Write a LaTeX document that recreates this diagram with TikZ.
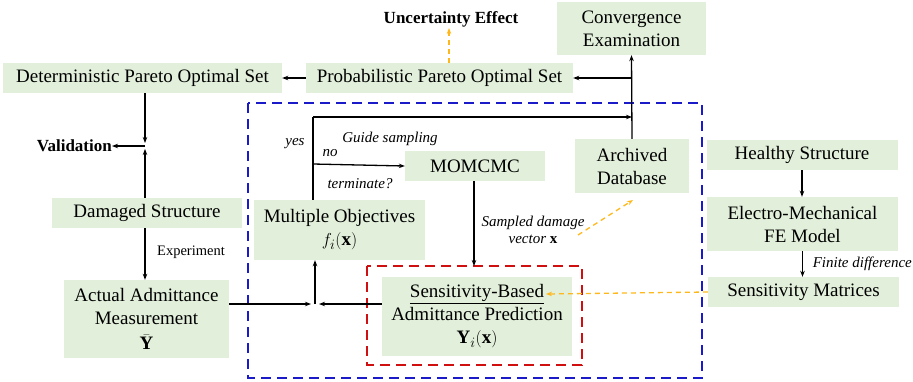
\documentclass[tikz,border=0pt]{standalone}
\usepackage{fontspec}
\setmainfont{Liberation Serif}
\usetikzlibrary{arrows.meta}
\definecolor{boxgreen}{HTML}{E2EFDA}
\definecolor{dblue}{HTML}{1A1AC8}
\definecolor{dred}{HTML}{D01010}
\definecolor{dyellow}{HTML}{FFB81C}
\tikzset{
  box/.style={fill=boxgreen, draw=none, inner sep=0pt, align=center, font=\fontsize{19}{23}\selectfont},
  arr/.style={line width=1.3pt, -{Stealth[length=6pt,width=4.5pt]}},
  yarr/.style={line width=1.3pt, dyellow, dash pattern=on 5pt off 4pt, -{Stealth[length=6pt,width=4.5pt]}},
  lbl/.style={font=\fontsize{15}{17.5}\selectfont\itshape, inner sep=0pt},
  blbl/.style={font=\fontsize{17}{19}\selectfont\bfseries, inner sep=0pt},
}
\begin{document}
\begin{tikzpicture}[x=1pt,y=-1pt]
\useasboundingbox (0,0) rectangle (913,381);
% frames
\draw[dblue, line width=1.6pt, dash pattern=on 10pt off 6pt] (248,103) rectangle (702,378);
\draw[dred, line width=1.6pt, dash pattern=on 10pt off 6pt] (367,266) rectangle (582,365);
% boxes
\node[box, minimum width=279pt, minimum height=30pt] (det) at (142.5,78) {Deterministic Pareto Optimal Set};
\node[box, minimum width=267pt, minimum height=30pt] (prob) at (439.5,78) {Probabilistic Pareto Optimal Set};
\node[box, minimum width=149pt, minimum height=53pt] (conv) at (631.5,28.5) {Convergence\\Examination};
\node[box, minimum width=140pt, minimum height=30pt] (mom) at (475,166) {MOMCMC};
\node[box, minimum width=114pt, minimum height=54pt] (arch) at (632,166) {Archived\\Database};
\node[box, minimum width=191pt, minimum height=30pt] (heal) at (802,155) {Healthy Structure};
\node[box, minimum width=190pt, minimum height=30pt] (dam) at (147,213) {Damaged Structure};
\node[box, minimum width=171pt, minimum height=60pt] (mo) at (339.5,230) {Multiple Objectives\\$f_i(\mathbf{x})$};
\node[box, minimum width=191pt, minimum height=54pt] (em) at (802.5,224) {Electro-Mechanical\\FE Model};
\node[box, minimum width=165pt, minimum height=78pt] (act) at (146.5,319) {};
\node[box, fill=none] (acttxt) at (146.5,306.5) {Actual Admittance\\Measurement};
\node[box, fill=none] (actY) at (146.5,342) {$\bar{\mathbf{Y}}$};
\node[box, minimum width=190pt, minimum height=79pt] (sens) at (477,316.5) {\underline{Sensitivity-Based}\\Admittance Prediction\\$\mathbf{Y}_i(\mathbf{x})$};
\node[box, minimum width=191pt, minimum height=30pt] (smat) at (803.5,292) {Sensitivity Matrices};
% texts
\node[blbl] (unc) at (451,19) {Uncertainty Effect};
\node[blbl, anchor=east] (val) at (112,146) {Validation};
\node[lbl] (yes) at (295,144) {yes};
\node[lbl] (no) at (330,153) {no};
\node[lbl] (guide) at (390,139) {Guide sampling};
\node[lbl] (term) at (360,184) {terminate?};
\node[lbl, align=center] (samp) at (533,230) {Sampled damage\\vector {\upshape$\mathbf{x}$}};
\node[font=\fontsize{14.5}{15}\selectfont, inner sep=0pt] (exp) at (191,252) {Experiment};
\node[lbl, anchor=east] (fd) at (912,264) {Finite difference};
% coordinates
\coordinate (jv) at (145,146);
\coordinate (jm) at (315,304);
\coordinate (ctop) at (632,117);
\coordinate (ltop) at (313,117);
\coordinate (lmid) at (313,164);
\coordinate (pa) at (632,78);
\coordinate (pu) at (449,63);
\coordinate (ut) at (449,28);
\coordinate (sa) at (578,235);
\coordinate (sb) at (633,200);
\coordinate (redtop) at (474,266);
\coordinate (stxt) at (546,294);
% connectors
\draw[arr] (prob.west) -- (det.east);
\draw[arr, shorten >=3pt] (det.south -| jv) -- (jv);
\draw[arr, shorten >=3pt] (dam.north -| jv) -- (jv);
\draw[arr] (jv) -- (val.east);
\draw[arr] (dam.south -| jv) -- (act.north -| jv);
\draw[arr, shorten >=4pt] (act.east |- jm) -- (jm);
\draw[arr, shorten >=4pt] (sens.west |- jm) -- (jm);
\draw[arr] (jm) -- (mo.south -| jm);
\draw[line width=1.3pt] (mo.north -| ltop) -- (ltop);
\draw[arr] (ltop) -- (ctop);
\draw[arr] (lmid) -- (mom.west);
\draw[arr] (arch.north) -- (conv.south);
\draw[arr] (pa) -- (prob.east);
\draw[arr] (mom.south -| redtop) -- (redtop);
\draw[arr] (heal.south) -- (em.north -| heal.south);
\draw[arr] (em.south) -- (smat.north -| em.south);
\draw[yarr] (pu) -- (ut);
\draw[yarr] (sa) -- (sb);
\draw[yarr] (smat.west) -- (stxt);
\end{tikzpicture}
\end{document}
